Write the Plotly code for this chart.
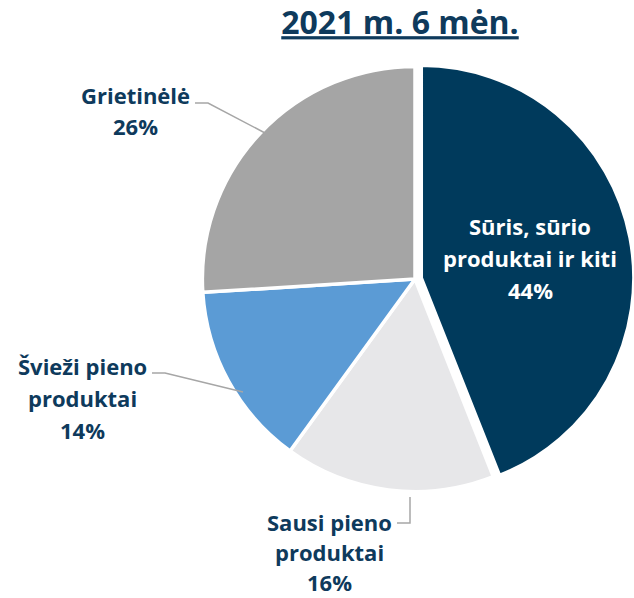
import plotly.graph_objects as go

# data
labels = ["Sūris, sūrio<br>produktai ir kiti", "Sausi pieno<br>produktai",
          "Švieži pieno<br>produktai", "Grietinėlė"]
values = [44, 16, 14, 26]
colors = ["#003A5C", "#E7E7E9", "#5B9BD5", "#A5A5A5"]
title_text = "2021 m. 6 mėn."

W, H = 634, 598
TXT = "#0E3A5C"
FONT = "Open Sans"
PIE_W = 438      # pie box size in px (pie is cut by the right edge in the original)
PIE_CY = 279     # pie centre y, px


def px(x):
    return x / W


def py(y):
    return 1 - y / H


fig = go.Figure(go.Pie(
    labels=labels,
    values=values,
    sort=False,
    direction="clockwise",
    rotation=0,
    pull=[0.03, 0, 0, 0],
    marker=dict(colors=colors, line=dict(color="white", width=3.5)),
    textinfo="none",
    domain=dict(x=[1 - PIE_W / W, 1.0],
                y=[py(PIE_CY + PIE_W / 2), py(PIE_CY - PIE_W / 2)]),
    showlegend=False,
    hoverinfo="label+percent",
))

# labels: (slice index, centre x, y of first line, line step, colour)
label_pos = [
    (0, 530, 226, 32, "white"),
    (1, 329, 522, 30, TXT),
    (2, 82, 366, 32, TXT),
    (3, 135, 95, 31, TXT),
]
for i, x, y0, step, col in label_pos:
    lines = labels[i].split("<br>") + [f"{values[i]}%"]
    for k, ln in enumerate(lines):
        fig.add_annotation(
            x=px(x), y=py(y0 + k * step), xref="paper", yref="paper",
            text=f"<b>{ln}</b>", showarrow=False,
            xanchor="center", yanchor="middle",
            font=dict(size=22, color=col, family=FONT),
        )

# leader lines
leaders = [
    [(397, 523), (410, 523), (410, 497)],
    [(152, 373), (165, 373), (243, 392)],
    [(195, 103), (208, 103), (265, 133)],
]
for pts in leaders:
    path = "M " + " L ".join(f"{px(a)} {py(b)}" for a, b in pts)
    fig.add_shape(type="path", path=path, xref="paper", yref="paper",
                  line=dict(color="#A6A6A6", width=1.5))

fig.update_layout(
    width=W, height=H,
    margin=dict(l=0, r=0, t=0, b=0),
    paper_bgcolor="white",
    plot_bgcolor="white",
    title=dict(
        text=f"<b><u>{title_text}</u></b>",
        x=px(400), xanchor="center",
        y=py(23), yanchor="middle", yref="container",
        font=dict(size=32, color=TXT, family=FONT),
    ),
)

# drop the default 8px body margin so the figure fills the window exactly
fig.write_html("out.html", config={"displayModeBar": False},
               post_script="document.body.style.margin='0';")
